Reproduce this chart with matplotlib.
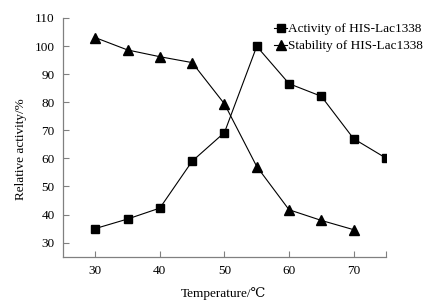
import matplotlib.pyplot as plt

# data
temp_act = [30, 35, 40, 45, 50, 55, 60, 65, 70, 75]
activity = [35.0, 38.4, 42.3, 59.0, 69.2, 99.9, 86.6, 82.1, 67.0, 60.1]
temp_stab = [30, 35, 40, 45, 50, 55, 60, 65, 70]
stability = [103.0, 98.6, 96.2, 94.1, 79.4, 57.1, 41.7, 37.9, 34.6]

plt.rcParams['font.family'] = ['Liberation Serif', 'DejaVu Serif']

fig = plt.figure(figsize=(4.3, 3.07), dpi=100)
ax = fig.add_axes([0.1465, 0.164, 0.751, 0.7775])

ax.plot(temp_act, activity, color='black', lw=0.8, marker='s', ms=6,
        label='Activity of HIS-Lac1338')
ax.plot(temp_stab, stability, color='black', lw=0.8, marker='^', ms=7.5,
        label='Stability of HIS-Lac1338')

ax.set_xlim(25, 75)
ax.set_ylim(25, 110)
ax.set_xticks([30, 40, 50, 60, 70, 75])
ax.set_xticklabels(['30', '40', '50', '60', '70', ''])
ax.set_yticks(range(30, 111, 10))
ax.tick_params(direction='in', length=4, width=0.8, color='#808080',
               labelsize=9.5, pad=6)
for s in ['top', 'right']:
    ax.spines[s].set_visible(False)
for s in ['left', 'bottom']:
    ax.spines[s].set_color('#808080')
    ax.spines[s].set_linewidth(0.9)

ax.set_xlabel('Temperature/℃', fontsize=9.5)
ax.xaxis.set_label_coords(0.497, -0.127)
ax.set_ylabel('Relative activity/%', fontsize=9.5)
ax.yaxis.set_label_coords(-0.11, 0.451)

ax.legend(loc='upper left', bbox_to_anchor=(0.654, 0.978), frameon=False,
          fontsize=9.5, handlelength=1.0, handletextpad=0.05, labelspacing=0.35,
          borderaxespad=0, borderpad=0)

fig.savefig('out.png', dpi=100)
